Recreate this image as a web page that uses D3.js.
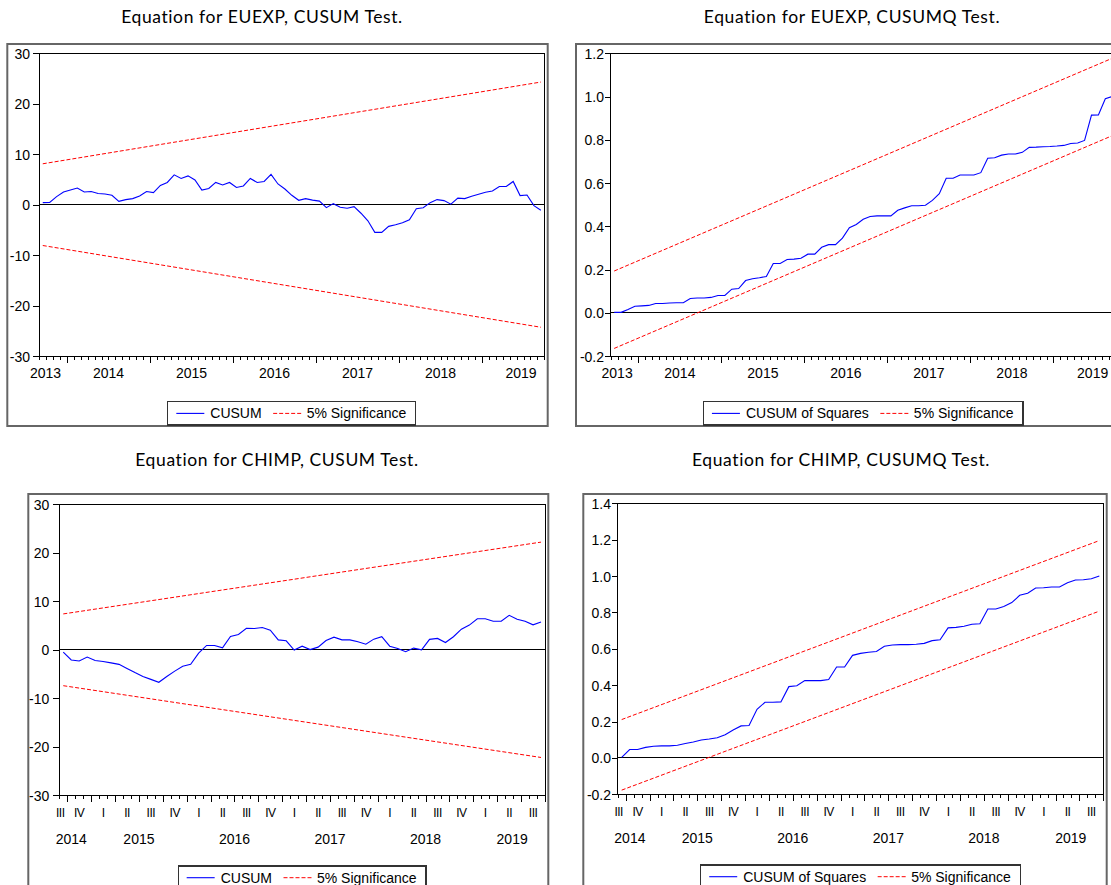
<!DOCTYPE html>
<html><head><meta charset="utf-8">
<script src="https://cdn.jsdelivr.net/npm/d3@7"></script>
<style>body{margin:0;background:#fff}svg{display:block}</style>
</head><body>
<svg id="chart" width="1111" height="885"></svg>
<script>
// ---------- data ----------
const euStart = [2013, 9];   // first observation (year, month)
const chStart = [2014, 9];

const euCusum = [0.4, 0.45, 1.6, 2.5, 2.9, 3.3, 2.5, 2.6, 2.2, 2.1, 1.85, 0.66, 1.0, 1.2, 1.7, 2.6, 2.4, 3.8, 4.4, 5.9,
  5.2, 5.7, 4.9, 2.9, 3.2, 4.4, 3.9, 4.4, 3.4, 3.7, 5.2, 4.4, 4.6, 6.0, 4.1, 3.1, 1.85, 0.86, 1.2, 0.9,
  0.7, -0.6, 0.2, -0.5, -0.7, -0.4, -1.7, -3.2, -5.5, -5.5, -4.3, -4.0, -3.6, -3.0, -0.8, -0.6, 0.4, 1.0, 0.8, 0.1,
  1.3, 1.2, 1.65, 2.05, 2.45, 2.7, 3.6, 3.6, 4.6, 1.8, 1.9, -0.2, -1.1];
const euCusumUpper = [8.1, 24.3];     // 5% bound at first and last observation
const euCusumLower = [-8.1, -24.3];

const euCusumSq = [0.002, 0.002, 0.015, 0.03, 0.032, 0.034, 0.043, 0.043, 0.045, 0.046, 0.046, 0.066, 0.068, 0.068, 0.071, 0.08, 0.08, 0.109, 0.112, 0.149,
  0.157, 0.162, 0.168, 0.228, 0.228, 0.246, 0.248, 0.252, 0.271, 0.271, 0.303, 0.315, 0.315, 0.345, 0.393, 0.408, 0.432, 0.445, 0.448, 0.448,
  0.448, 0.474, 0.485, 0.495, 0.495, 0.497, 0.52, 0.551, 0.622, 0.622, 0.637, 0.637, 0.637, 0.648, 0.715, 0.717, 0.729, 0.734, 0.734, 0.742,
  0.765, 0.766, 0.768, 0.769, 0.771, 0.774, 0.783, 0.785, 0.797, 0.914, 0.915, 0.99, 1.0];
const euCusumSqUpper = [0.193, 1.177];
const euCusumSqLower = [-0.165, 0.819];

const chCusum = [-0.5, -2.1, -2.3, -1.5, -2.2, -2.4, -2.7, -3.0, -3.85, -4.7, -5.5, -6.1, -6.7, -5.5, -4.4, -3.4, -3.0, -0.7, 0.9, 0.9,
  0.4, 2.75, 3.15, 4.45, 4.4, 4.6, 4.05, 2.05, 1.85, -0.05, 0.75, 0.05, 0.55, 1.9, 2.6, 2.05, 2.05, 1.65, 1.15, 2.2,
  2.7, 0.75, 0.25, -0.4, 0.35, 0.0, 2.15, 2.35, 1.5, 2.7, 4.25, 5.1, 6.4, 6.4, 5.9, 5.9, 7.1, 6.3, 5.9, 5.15, 5.75];
const chCusumUpper = [7.4, 22.2];
const chCusumLower = [-7.4, -22.2];

const chCusumSq = [0.003, 0.046, 0.046, 0.058, 0.064, 0.066, 0.066, 0.07, 0.079, 0.088, 0.099, 0.104, 0.111, 0.128, 0.154, 0.176, 0.178, 0.267, 0.306, 0.306,
  0.308, 0.392, 0.397, 0.425, 0.425, 0.425, 0.431, 0.5, 0.5, 0.564, 0.575, 0.581, 0.585, 0.614, 0.621, 0.623, 0.623, 0.625, 0.63, 0.645,
  0.65, 0.715, 0.718, 0.724, 0.735, 0.738, 0.819, 0.819, 0.832, 0.854, 0.894, 0.905, 0.934, 0.936, 0.94, 0.94, 0.963, 0.978, 0.98, 0.985, 1.0];
const chCusumSqUpper = [0.211, 1.195];
const chCusumSqLower = [-0.177, 0.807];

const cusumTicks = [-30, -20, -10, 0, 10, 20, 30];
const euSqTicks = [-0.2, 0.0, 0.2, 0.4, 0.6, 0.8, 1.0, 1.2];
const chSqTicks = [-0.2, 0.0, 0.2, 0.4, 0.6, 0.8, 1.0, 1.2, 1.4];
const quarterLabels = ["I", "II", "III", "IV"];
const seriesCusum = "CUSUM";
const seriesCusumSq = "CUSUM of Squares";
const seriesSig = "5% Significance";

// ---------- layout ----------
const fmtInt = d => String(d);
const fmt1 = d => d.toFixed(1);

const panels = [
  {title: "Equation for EUEXP, CUSUM Test.", tx: 262, ty: 23, frame: [7.3, 44, 547.7, 426], plot: [39.3, 53.3, 544.3, 356],
   values: euCusum, upper: euCusumUpper, lower: euCusumLower, domain: [-30, 30], ticks: cusumTicks, fmt: fmtInt, labelPad: 3.3,
   start: euStart, mode: "year", yearShift: [-7.6, 7.8], legendTop: 401.7, name: seriesCusum},
  {title: "Equation for EUEXP, CUSUMQ Test.", tx: 852, ty: 23, frame: [576, 44, 1119, 426], plot: [610.7, 53.3, 1115.7, 356],
   values: euCusumSq, upper: euCusumSqUpper, lower: euCusumSqLower, domain: [-0.2, 1.2], ticks: euSqTicks, fmt: fmt1, labelPad: 0.7,
   start: euStart, mode: "year", yearShift: [-7.4, 8.1], legendTop: 401.7, name: seriesCusumSq},
  {title: "Equation for CHIMP, CUSUM Test.", tx: 277, ty: 466, frame: [28.3, 494, 548.3, 900], plot: [59.3, 504.3, 545, 795.3],
   values: chCusum, upper: chCusumUpper, lower: chCusumLower, domain: [-30, 30], ticks: cusumTicks, fmt: fmtInt, labelPad: 4,
   start: chStart, mode: "quarter", yearShift: [-3.9, 3], legendTop: 866, name: seriesCusum},
  {title: "Equation for CHIMP, CUSUMQ Test.", tx: 841, ty: 466, frame: [583.3, 494, 1106.7, 900], plot: [617.7, 503.3, 1103.3, 794.3],
   values: chCusumSq, upper: chCusumSqUpper, lower: chCusumSqLower, domain: [-0.2, 1.4], ticks: chSqTicks, fmt: fmt1, labelPad: 0.7,
   start: chStart, mode: "quarter", yearShift: [-3.7, 3.3], legendTop: 865, name: seriesCusumSq}
];

const svg = d3.select("#chart");
svg.append("rect").attr("width", 1111).attr("height", 885).attr("fill", "#fff");
const AX = "'Liberation Sans', Arial, sans-serif";

panels.forEach(p => {
  const g = svg.append("g");
  const [fl, ft, fr, fb] = p.frame;
  const [pl, pt, pr, pb] = p.plot;
  const N = p.values.length;

  // title
  g.append("text").attr("x", p.tx).attr("y", p.ty).attr("text-anchor", "middle")
    .attr("font-family", "Lato, 'Open Sans', sans-serif").attr("font-size", 17.5).attr("letter-spacing", "0.6px")
    .attr("fill", "#000").text(p.title);

  // outer frame
  g.append("rect").attr("x", fl).attr("y", ft).attr("width", fr - fl).attr("height", fb - ft)
    .attr("fill", "none").attr("stroke", "#666").attr("stroke-width", 2);

  const x = d3.scaleLinear().domain([0, N]).range([pl, pr]);
  const y = d3.scaleLinear().domain(p.domain).range([pb, pt]);

  // y axis
  const yAxis = d3.axisLeft(y).tickValues(p.ticks).tickFormat(p.fmt).tickSize(6).tickPadding(p.labelPad);
  const ya = g.append("g").attr("transform", `translate(${pl},0)`).call(yAxis);
  ya.select(".domain").remove();
  ya.selectAll("line").attr("stroke", "#000").attr("shape-rendering", "crispEdges");
  ya.selectAll("text").attr("font-family", AX).attr("font-size", 14).attr("fill", "#000").attr("dy", "0.36em");

  // x ticks (month boundaries)
  const m0 = p.start[0] * 12 + p.start[1] - 1;
  const bounds = d3.range(0, N + 1);
  const xa = d3.axisBottom(x).tickValues(bounds).tickFormat("").tickSizeOuter(0);
  const xg = g.append("g").attr("transform", `translate(0,${pb})`).call(xa);
  xg.select(".domain").remove();
  xg.selectAll(".tick line").attr("stroke", "#000").attr("shape-rendering", "crispEdges")
    .attr("y2", k => {
      const m = m0 + k;
      if (p.mode === "year") return m % 12 === 0 ? 7 : 3.5;
      return m % 3 === 0 ? 7 : 3.5;
    });

  // year labels
  const y0 = Math.floor(m0 / 12), y1 = Math.floor((m0 + N - 1) / 12);
  const yearBase = p.mode === "year" ? pb + 22.3 : pb + 49;
  d3.range(y0, y1 + 1).forEach(Y => {
    const a0 = Y * 12 - m0, b0 = (Y + 1) * 12 - m0;
    const a = Math.max(a0, 0), b = Math.min(b0, N);
    let cx = (x(a) + x(b)) / 2;
    if (a0 < 0) cx += p.yearShift[0];
    if (b0 > N) cx += p.yearShift[1];
    g.append("text").attr("x", cx).attr("y", yearBase).attr("text-anchor", "middle")
      .attr("font-family", AX).attr("font-size", 14).attr("fill", "#000").text(Y);
  });

  // quarter labels
  if (p.mode === "quarter") {
    const q0 = Math.floor(m0 / 3), q1 = Math.floor((m0 + N - 1) / 3);
    d3.range(q0, q1 + 1).forEach(Q => {
      const a0 = Q * 3 - m0, b0 = (Q + 1) * 3 - m0;
      const a = Math.max(a0, 0), b = Math.min(b0, N);
      let cx = (x(a) + x(b)) / 2;
      if (a0 < 0) cx -= 3;
      g.append("text").attr("x", cx).attr("y", pb + 21.5).attr("text-anchor", "middle")
        .attr("font-family", AX).attr("font-size", 12).attr("letter-spacing", "-0.5px")
        .attr("fill", "#000").text(quarterLabels[Q % 4]);
    });
  }

  // zero line
  g.append("line").attr("x1", pl).attr("x2", pr).attr("y1", y(0)).attr("y2", y(0))
    .attr("stroke", "#000").attr("stroke-width", 1).attr("shape-rendering", "crispEdges");

  // significance bounds
  const bx = [0.5, N - 0.5];
  const line2 = d3.line().x((d, i) => x(bx[i])).y(d => y(d));
  [p.upper, p.lower].forEach(arr => {
    g.append("path").attr("d", line2(arr)).attr("fill", "none").attr("stroke", "#ff0000")
      .attr("stroke-width", 1).attr("stroke-dasharray", "4,2");
  });

  // series line
  const line = d3.line().x((d, i) => x(i + 0.5)).y(d => y(d));
  g.append("path").attr("d", line(p.values)).attr("fill", "none").attr("stroke", "#0000ff").attr("stroke-width", 1.1);

  // plot border
  g.append("rect").attr("x", pl).attr("y", pt).attr("width", pr - pl).attr("height", pb - pt)
    .attr("fill", "none").attr("stroke", "#000").attr("stroke-width", 1).attr("shape-rendering", "crispEdges");

  // legend
  const lg = g.append("g");
  const box = lg.append("rect");
  const ly = p.legendTop + 11.7;
  const t1 = lg.append("text").attr("font-family", AX).attr("font-size", 14).attr("fill", "#000").attr("dy", "0.36em").text(p.name);
  const t2 = lg.append("text").attr("font-family", AX).attr("font-size", 14).attr("fill", "#000").attr("dy", "0.36em").text(seriesSig);
  const w1 = t1.node().getComputedTextLength(), w2 = t2.node().getComputedTextLength();
  const W = 8.5 + 28 + 6 + w1 + 11.5 + 28 + 5.5 + w2 + 9.5;
  const L = (pl + pr) / 2 - W / 2;
  box.attr("x", L).attr("y", p.legendTop).attr("width", W).attr("height", 23.3)
    .attr("fill", "#fff").attr("stroke", "#333").attr("stroke-width", 1.3).attr("shape-rendering", "crispEdges");
  let cx = L + 8.5;
  lg.append("line").attr("x1", cx).attr("x2", cx + 28).attr("y1", ly).attr("y2", ly).attr("stroke", "#0000ff").attr("stroke-width", 1.1);
  cx += 34;
  t1.attr("x", cx).attr("y", ly);
  cx += w1 + 11.5;
  lg.append("line").attr("x1", cx).attr("x2", cx + 28).attr("y1", ly).attr("y2", ly).attr("stroke", "#ff0000")
    .attr("stroke-width", 1).attr("stroke-dasharray", "4,2");
  cx += 33.5;
  t2.attr("x", cx).attr("y", ly);
});
</script>
</body></html>
